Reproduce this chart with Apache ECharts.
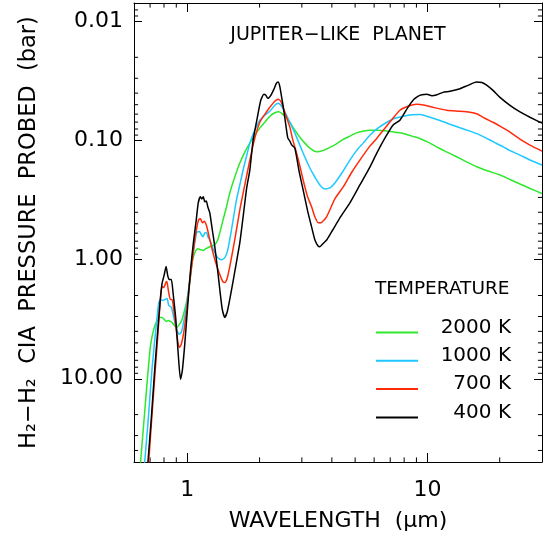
<!DOCTYPE html>
<html>
<head>
<meta charset="utf-8">
<script src="https://cdn.jsdelivr.net/npm/echarts@6/dist/echarts.min.js"></script>
<style>
body { margin: 0; background: #fff; }
#chart { width: 547px; height: 537px; }
</style>
</head>
<body>
<div id="chart"></div>
<script>
// wavelength (micron) and probed pressure (bar) for each temperature
var wl400 = [0.675, 0.686, 0.708, 0.732, 0.754, 0.772, 0.785, 0.802, 0.816, 0.829, 0.841, 0.858, 0.874, 0.896, 0.917, 0.937, 0.953, 0.976, 1.005, 1.034,
	1.064, 1.090, 1.111, 1.133, 1.149, 1.166, 1.183, 1.200, 1.217, 1.241, 1.271, 1.302, 1.340, 1.366, 1.399, 1.433, 1.468, 1.503, 1.577, 1.655,
	1.712, 1.770, 1.822, 1.880, 1.948, 2.023, 2.084, 2.124, 2.165, 2.228, 2.293, 2.349, 2.389, 2.428, 2.476, 2.512, 2.573, 2.623, 2.674, 2.725,
	2.805, 2.915, 3.037, 3.177, 3.293, 3.398, 3.498, 3.565, 3.669, 3.813, 4.039, 4.320, 4.754, 5.234, 5.760, 6.161, 6.651, 7.184, 7.683, 8.295,
	8.787, 9.128, 9.487, 9.952, 10.44, 10.96, 11.60, 12.41, 13.66, 14.75, 16.03, 16.87, 17.70, 18.75, 20.05, 22.07, 24.29, 26.73, 30.0];
var p400 = [84, 49.8, 21.8, 8.31, 3.85, 2.16, 1.587, 1.335, 1.144, 1.361, 1.470, 1.470, 1.962, 3.174, 6.23, 10.08, 8.64, 5.14, 2.379, 1.166,
	0.680, 0.463, 0.334, 0.297, 0.309, 0.297, 0.327, 0.321, 0.360, 0.405, 0.561, 0.779, 1.260, 1.782, 2.619, 3.054, 2.721, 2.160, 1.260, 0.721,
	0.421, 0.245, 0.177, 0.0992, 0.0675, 0.0459, 0.0409, 0.0417, 0.0442, 0.0417, 0.0372, 0.0331, 0.0323, 0.0351, 0.0442, 0.0526, 0.0743, 0.0955, 0.1012, 0.1092,
	0.1157, 0.1768, 0.2599, 0.3968, 0.530, 0.681, 0.764, 0.779, 0.735, 0.681, 0.561, 0.446, 0.334, 0.236, 0.167, 0.127, 0.0955, 0.0743, 0.0675, 0.0526,
	0.0451, 0.0425, 0.0413, 0.0409, 0.0421, 0.0413, 0.0394, 0.0386, 0.0367, 0.0344, 0.0323, 0.0325, 0.0344, 0.0379, 0.0434, 0.0506, 0.0575, 0.0637, 0.0715];

var wl700 = [0.678, 0.691, 0.711, 0.736, 0.757, 0.773, 0.785, 0.798, 0.814, 0.822, 0.833, 0.850, 0.864, 0.878, 0.896, 0.913, 0.928, 0.944, 0.967, 0.995,
	1.024, 1.049, 1.075, 1.101, 1.115, 1.135, 1.155, 1.177, 1.206, 1.241, 1.302, 1.366, 1.406, 1.433, 1.461, 1.503, 1.577, 1.655, 1.736, 1.822,
	1.911, 2.005, 2.103, 2.207, 2.315, 2.389, 2.453, 2.506, 2.598, 2.674, 2.752, 2.851, 2.943, 3.037, 3.162, 3.293, 3.398, 3.508, 3.597, 3.802,
	4.117, 4.459, 4.847, 5.234, 5.760, 6.161, 6.651, 7.184, 7.683, 8.295, 9.016, 9.763, 10.54, 12.02, 13.66, 15.03, 16.03, 17.36, 18.75, 20.05,
	22.07, 24.29, 26.73, 30.0];
var p700 = [84, 49.8, 21.8, 8.31, 3.85, 2.16, 1.682, 1.714, 1.557, 1.527, 1.782, 2.160, 2.160, 2.619, 3.633, 4.85, 5.441, 5.14, 4.077, 2.619,
	1.527, 1.039, 0.680, 0.510, 0.463, 0.454, 0.490, 0.477, 0.530, 0.680, 1.000, 1.335, 1.527, 1.557, 1.470, 1.144, 0.680, 0.382, 0.236, 0.1458,
	0.0955, 0.0702, 0.0602, 0.0526, 0.0468, 0.0451, 0.0468, 0.0526, 0.065, 0.0772, 0.0992, 0.1274, 0.1637, 0.2143, 0.2917, 0.3604, 0.4368, 0.490, 0.490, 0.4368,
	0.309, 0.2453, 0.1837, 0.1458, 0.1114, 0.0955, 0.0787, 0.065, 0.0557, 0.0516, 0.0496, 0.0506, 0.0526, 0.0557, 0.0568, 0.0579, 0.0596, 0.065, 0.0702, 0.0758,
	0.0851, 0.0973, 0.1092, 0.1226];

var wl1000 = [0.653, 0.665, 0.688, 0.713, 0.736, 0.750, 0.761, 0.775, 0.790, 0.806, 0.824, 0.837, 0.850, 0.860, 0.878, 0.896, 0.913, 0.926, 0.944, 0.967,
	0.995, 1.024, 1.057, 1.080, 1.092, 1.109, 1.127, 1.144, 1.164, 1.183, 1.202, 1.223, 1.241, 1.271, 1.302, 1.340, 1.389, 1.433, 1.468, 1.503,
	1.547, 1.603, 1.655, 1.708, 1.770, 1.822, 1.911, 2.005, 2.103, 2.207, 2.315, 2.389, 2.453, 2.524, 2.591, 2.674, 2.805, 2.943, 3.087, 3.239,
	3.398, 3.565, 3.741, 3.925, 4.117, 4.403, 4.754, 5.085, 5.401, 5.760, 6.220, 6.781, 7.320, 7.930, 8.620, 9.306, 9.952, 10.57, 11.49, 12.41,
	13.66, 15.03, 16.23, 17.65, 19.11, 20.78, 22.07, 24.29, 26.73, 30.0];
var p1000 = [84, 49.8, 21.8, 8.31, 4.238, 2.939, 2.289, 2.160, 2.202, 2.160, 2.119, 2.424, 2.471, 2.520, 3.054, 3.633, 4.077, 4.238, 4.077, 3.299,
	2.334, 1.470, 0.874, 0.680, 0.594, 0.584, 0.584, 0.618, 0.642, 0.594, 0.594, 0.655, 0.680, 0.779, 0.874, 0.962, 1.000, 0.962, 0.857, 0.680,
	0.481, 0.315, 0.236, 0.1768, 0.1324, 0.1051, 0.0818, 0.0675, 0.0613, 0.0568, 0.0506, 0.0487, 0.0506, 0.0557, 0.0613, 0.0702, 0.0867, 0.1092, 0.1376, 0.1701,
	0.2023, 0.236, 0.2549, 0.250, 0.2271, 0.1873, 0.1458, 0.1203, 0.1051, 0.0901, 0.0787, 0.0702, 0.065, 0.0625, 0.0607, 0.0604, 0.0625, 0.065, 0.0688, 0.0729,
	0.0780, 0.0834, 0.0884, 0.096, 0.1041, 0.1135, 0.1215, 0.1324, 0.1458, 0.1606];

var wl2000 = [0.624, 0.639, 0.661, 0.685, 0.704, 0.725, 0.746, 0.768, 0.785, 0.802, 0.818, 0.832, 0.850, 0.864, 0.883, 0.902, 0.922, 0.951, 0.976, 0.998,
	1.024, 1.047, 1.064, 1.085, 1.109, 1.138, 1.164, 1.194, 1.241, 1.277, 1.302, 1.340, 1.366, 1.406, 1.457, 1.503, 1.577, 1.655, 1.736, 1.822,
	1.911, 2.005, 2.103, 2.207, 2.315, 2.406, 2.500, 2.598, 2.674, 2.805, 2.943, 3.087, 3.239, 3.453, 3.669, 3.925, 4.197, 4.459, 4.754, 5.07,
	5.386, 5.760, 6.161, 6.781, 7.32, 7.930, 8.620, 9.306, 10.05, 10.92, 11.94, 13.23, 14.47, 16.03, 17.87, 20.05, 22.07, 24.29, 26.73, 30.0];
var p2000 = [84, 49.8, 21.8, 9.15, 5.14, 3.848, 3.299, 3.054, 3.054, 3.174, 3.299, 3.236, 3.299, 3.365, 3.563, 3.704, 3.563, 3.174, 2.619, 2.160,
	1.557, 1.059, 0.926, 0.841, 0.809, 0.825, 0.836, 0.809, 0.779, 0.764, 0.749, 0.680, 0.594, 0.472, 0.360, 0.2754, 0.2023, 0.1545, 0.125, 0.1051,
	0.0901, 0.0787, 0.0702, 0.0625, 0.0584, 0.0573, 0.0602, 0.065, 0.0702, 0.0818, 0.0937, 0.1051, 0.1157, 0.1243, 0.1215, 0.1142, 0.1061, 0.0979, 0.0918, 0.0862,
	0.0834, 0.0818, 0.0818, 0.0830, 0.0851, 0.0872, 0.0918, 0.096, 0.1031, 0.1129, 0.1238, 0.1368, 0.1501, 0.166, 0.1803, 0.1947, 0.2123, 0.2315, 0.2524, 0.278];

var legendNames = ['2000 K', '1000 K', '700 K', '400 K'];
var xMinorTicks = [0.7, 0.8, 0.9, 2, 3, 4, 5, 6, 7, 8, 9, 20];
var yMinorTicks = [0.008, 0.009, 0.02, 0.03, 0.04, 0.05, 0.06, 0.07, 0.08, 0.09, 0.2, 0.3, 0.4, 0.5, 0.6, 0.7, 0.8, 0.9,
	2, 3, 4, 5, 6, 7, 8, 9, 20, 30, 40];

var FONT = 'DejaVu Sans';
var chart = echarts.init(document.getElementById('chart'));

function pairs(xs, ys) {
	return xs.map(function(x, i) { return [x, ys[i]]; });
}

function isDecade(v) {
	var l = Math.log10(v);
	return Math.abs(l - Math.round(l)) < 1e-6;
}

function fmtX(v) {
	return isDecade(v) ? String(Math.round(v)) : '';
}

function fmtY(v) {
	return isDecade(v) ? v.toFixed(2) : '';
}

// minor ticks on all four sides of the box (IDL style, pointing inward)
function minorX(params, api) {
	var cs = params.coordSys;
	var x = api.coord([api.value(0), 1])[0];
	var st = { stroke: '#000', lineWidth: 1 };
	return { type: 'group', children: [
		{ type: 'line', shape: { x1: x, y1: cs.y + cs.height, x2: x, y2: cs.y + cs.height - 4.6 }, style: st },
		{ type: 'line', shape: { x1: x, y1: cs.y, x2: x, y2: cs.y + 4.6 }, style: st }
	] };
}

function minorY(params, api) {
	var cs = params.coordSys;
	var y = api.coord([1, api.value(1)])[1];
	var st = { stroke: '#000', lineWidth: 1 };
	return { type: 'group', children: [
		{ type: 'line', shape: { x1: cs.x, y1: y, x2: cs.x + 4.1, y2: y }, style: st },
		{ type: 'line', shape: { x1: cs.x + cs.width, y1: y, x2: cs.x + cs.width - 4.1, y2: y }, style: st }
	] };
}

function xAxisOpt(pos) {
	return {
		type: 'log',
		logBase: 10,
		min: 0.6,
		max: 30,
		position: pos,
		axisLine: { show: true, onZero: false, lineStyle: { color: '#000', width: 1 } },
		axisTick: { inside: true, length: 9, lineStyle: { color: '#000', width: 1 } },
		axisLabel: { show: pos == 'bottom', formatter: fmtX, margin: 17, color: '#000', fontSize: 22, fontFamily: FONT },
		splitLine: { show: false },
		minorTick: { show: false }
	};
}

function yAxisOpt(pos) {
	return {
		type: 'log',
		logBase: 10,
		inverse: true,
		min: 0.007,
		max: 50,
		position: pos,
		axisLine: { show: true, onZero: false, lineStyle: { color: '#000', width: 1 } },
		axisTick: { inside: true, length: 8, lineStyle: { color: '#000', width: 1 } },
		axisLabel: { show: pos == 'left', formatter: fmtY, margin: 11, color: '#000', fontSize: 22, fontFamily: FONT },
		splitLine: { show: false }
	};
}

var xBottom = xAxisOpt('bottom');
xBottom.name = 'WAVELENGTH  (\u03bcm)';
xBottom.nameLocation = 'middle';
xBottom.nameGap = 48;
xBottom.nameTextStyle = { color: '#000', fontSize: 22, fontFamily: FONT };

var yLeft = yAxisOpt('left');
yLeft.name = 'H\u2082\u2212H\u2082  CIA  PRESSURE  PROBED  (bar)';
yLeft.nameLocation = 'middle';
yLeft.nameGap = 93;
yLeft.nameTextStyle = { color: '#000', fontSize: 22.5, fontFamily: FONT };

function lineSeries(name, xs, ys, color) {
	return {
		name: name,
		type: 'line',
		data: pairs(xs, ys),
		symbol: 'none',
		smooth: 0.2,
		clip: true,
		lineStyle: { color: color, width: 1.5 },
		itemStyle: { color: color }
	};
}

var option = {
	animation: false,
	backgroundColor: '#fff',
	grid: { left: 134, right: 5, top: 3, bottom: 74, containLabel: false },
	title: [{
		text: 'JUPITER\u2212LIKE  PLANET',
		left: 338,
		top: 26,
		textAlign: 'center',
		padding: 0,
		textStyle: { color: '#000', fontSize: 19, fontWeight: 'normal', fontFamily: FONT }
	}, {
		text: 'TEMPERATURE',
		left: 375,
		top: 280,
		padding: 0,
		textStyle: { color: '#000', fontSize: 18.5, fontWeight: 'normal', fontFamily: FONT }
	}],
	legend: {
		orient: 'vertical',
		left: 375,
		top: 317.5,
		padding: 0,
		itemWidth: 42,
		itemHeight: 14,
		itemGap: -1.7,
		selectedMode: false,
		data: legendNames,
		itemStyle: { opacity: 0 },
		formatter: function(name) { return '{t|' + name + '}'; },
		textStyle: {
			color: '#000', fontSize: 20, fontFamily: FONT,
			rich: { t: { width: 88, align: 'right', color: '#000', fontSize: 20, fontFamily: FONT, lineHeight: 14, padding: [0, 0, 10, 0] } }
		}
	},
	xAxis: [xBottom, xAxisOpt('top')],
	yAxis: [yLeft, yAxisOpt('right')],
	series: [
		lineSeries('2000 K', wl2000, p2000, '#2ee82e'),
		lineSeries('1000 K', wl1000, p1000, '#1ec8ff'),
		lineSeries('700 K', wl700, p700, '#ff2a0a'),
		lineSeries('400 K', wl400, p400, '#000000'),
		{
			type: 'custom', name: 'xminor', silent: true,
			renderItem: minorX,
			data: xMinorTicks.map(function(v) { return [v, 1]; })
		},
		{
			type: 'custom', name: 'yminor', silent: true,
			renderItem: minorY,
			data: yMinorTicks.map(function(v) { return [1, v]; })
		}
	]
};

chart.setOption(option);
</script>
</body>
</html>
